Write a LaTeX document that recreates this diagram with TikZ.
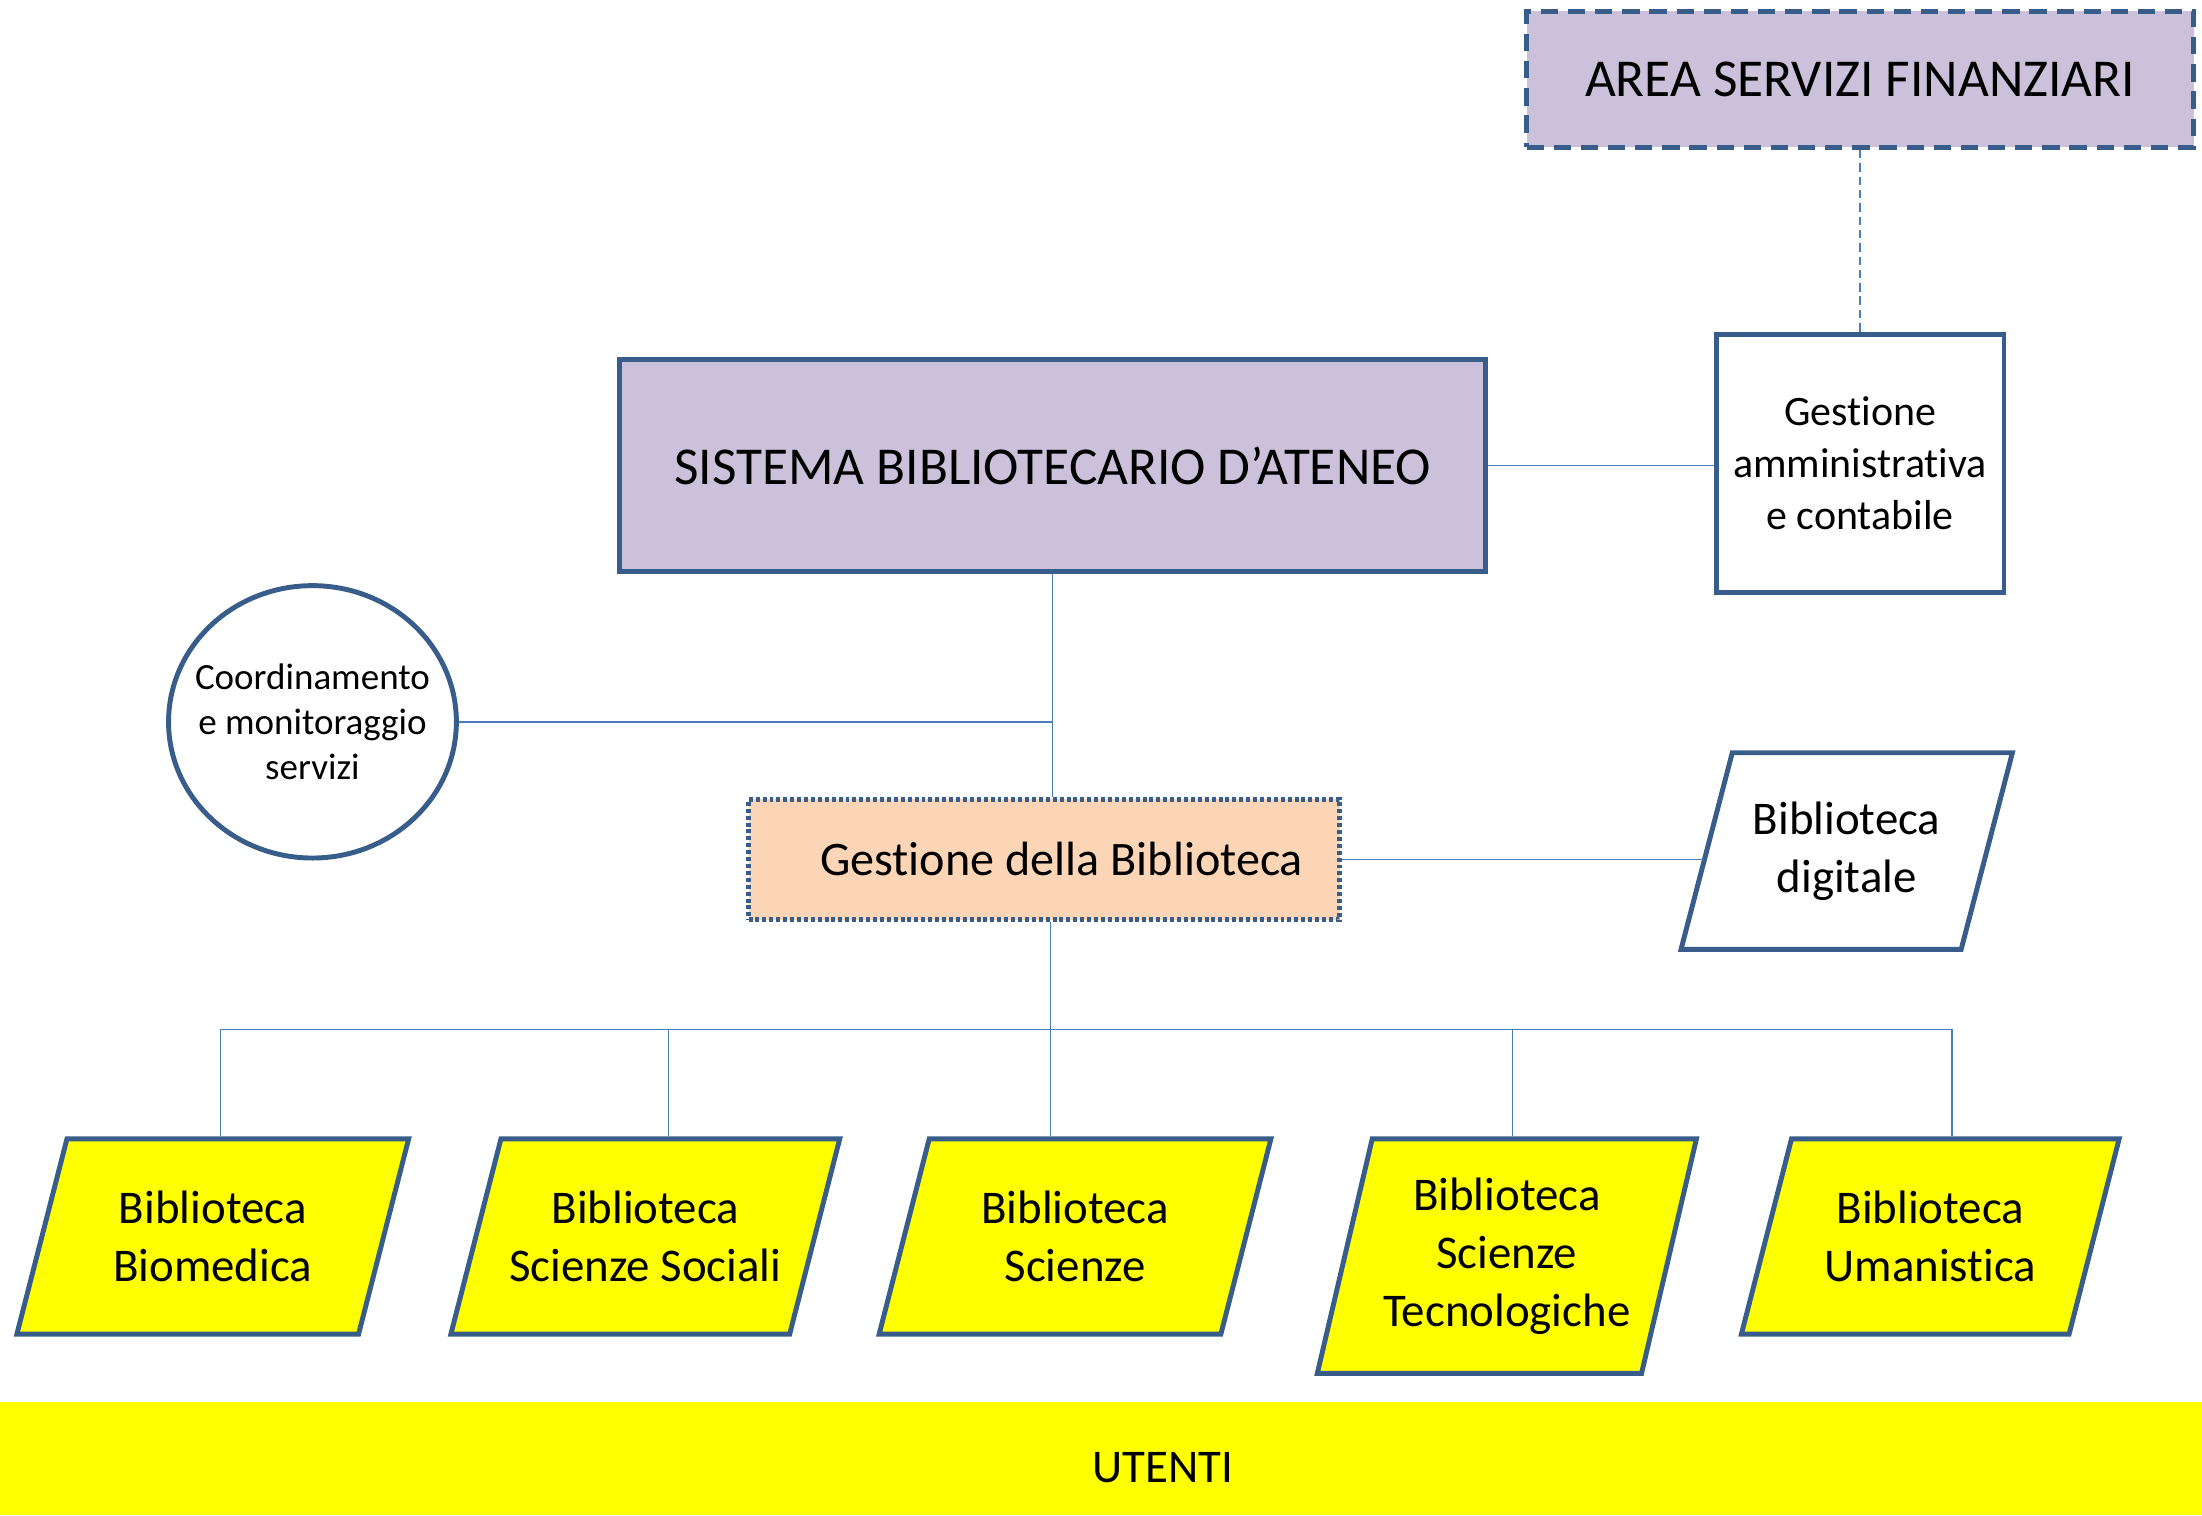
\documentclass[tikz,border=0pt]{standalone}
\usepackage{fontspec}
\setmainfont[Ligatures=NoCommon]{Carlito}
\usetikzlibrary{shapes.geometric}
\definecolor{boxblue}{HTML}{385D8A}
\definecolor{linkblue}{HTML}{4A7EBB}
\definecolor{lilac}{HTML}{CCC1DA}
\definecolor{peach}{HTML}{FBD5B5}
\definecolor{libyellow}{HTML}{FFFF00}
\tikzstyle{areabox} = [rectangle, minimum width=9.5cm, minimum height=1.94cm, text centered, draw=boxblue, line width=2pt, dash pattern=on 7pt off 4pt, fill=lilac, font=\fontsize{21.6}{25}\selectfont]
\tikzstyle{mainbox} = [rectangle, minimum width=12.34cm, minimum height=3.02cm, text centered, draw=boxblue, line width=2pt, fill=lilac, font=\fontsize{21.6}{25}\selectfont]
\tikzstyle{ammbox} = [rectangle, minimum width=4.1cm, minimum height=3.68cm, align=center, draw=boxblue, line width=2pt, fill=white, font=\fontsize{17}{21}\selectfont]
\tikzstyle{coordcircle} = [ellipse, minimum width=4.1cm, minimum height=3.88cm, inner xsep=-0.25cm, inner ysep=0pt, align=center, draw=boxblue, line width=2pt, fill=white, font=\fontsize{15}{18.2}\selectfont]
\tikzstyle{gestbox} = [rectangle, minimum width=8.42cm, minimum height=1.72cm, text centered, draw=boxblue, line width=2pt, dash pattern=on 1.6pt off 1.2pt, fill=peach, font=\fontsize{19.5}{23}\selectfont]
\tikzstyle{io} = [trapezium, trapezium left angle=65, trapezium right angle=115, trapezium stretches body, align=center, draw=boxblue, line width=2pt, font=\fontsize{19}{23.5}\selectfont]
\tikzstyle{link} = [linkblue, line width=0.7pt]

\begin{document}
\begin{tikzpicture}[x=0.02cm, y=-0.02cm]
\useasboundingbox (0,0) rectangle (1568,1079);
\fill[libyellow] (0,998) rectangle (1568,1079);
\node (users) at (828,1045) [font=\fontsize{19}{23}\selectfont] {UTENTI};

\node (area) at (1324.5,56.5) [areabox] {AREA SERVIZI FINANZIARI};
\node (sba) at (749.5,331.5) [mainbox] {SISTEMA BIBLIOTECARIO D’ATENEO};
\node (gam) at (1324.5,330) [ammbox] {Gestione\\amministrativa\\e contabile};
\node (coord) at (222.5,514) [coordcircle] {Coordinamento\\e monitoraggio\\servizi};
\node (gdb) at (743.5,612) [gestbox] {\hspace{0.5cm}Gestione della Biblioteca};
\node (dig) at (1315,606) [io, trapezium left angle=66, trapezium right angle=114, fill=white, minimum width=4.72cm, minimum height=2.8cm] {Biblioteca\\digitale};

\node (bio) at (151.5,880.5) [io, fill=libyellow, minimum width=5.58cm, minimum height=2.78cm] {Biblioteca\\Biomedica};
\node (soc) at (459.5,880.5) [io, fill=libyellow, minimum width=5.32cm, minimum height=2.78cm] {Biblioteca\\Scienze Sociali};
\node (sci) at (765.5,880.5) [io, fill=libyellow, minimum width=5.58cm, minimum height=2.78cm] {Biblioteca\\Scienze};
\node (tec) at (1073,894.5) [io, trapezium left angle=72.4, trapezium right angle=107.6, fill=libyellow, minimum width=5.4cm, minimum height=3.34cm] {Biblioteca\\Scienze\\Tecnologiche};
\node (uma) at (1374.5,880.5) [io, fill=libyellow, minimum width=5.38cm, minimum height=2.78cm] {Biblioteca\\Umanistica};

\draw [link, dash pattern=on 3.4pt off 2pt] (area.south) -- (gam.north);
\draw [link] (sba.east) -- (sba.east -| gam.west);
\draw [link] (sba.south) -- (sba.south |- gdb.north);
\draw [link] (coord.east) -- (coord.east -| sba.south);
\draw [link] (gdb.east) -- (gdb.east -| dig.west);

% bus down to the libraries
\coordinate (d1) at (157,733);
\coordinate (d2) at (476,733);
\coordinate (d3) at (748,733);
\coordinate (d4) at (1077,733);
\coordinate (d5) at (1390,733);
\draw [link] (d3 |- gdb.south) -- (d3);
\draw [link] (d1) -- (d5);
\draw [link] (d1) -- (d1 |- bio.north);
\draw [link] (d2) -- (d2 |- soc.north);
\draw [link] (d3) -- (d3 |- sci.north);
\draw [link] (d4) -- (d4 |- tec.north);
\draw [link] (d5) -- (d5 |- uma.north);
\end{tikzpicture}
\end{document}
